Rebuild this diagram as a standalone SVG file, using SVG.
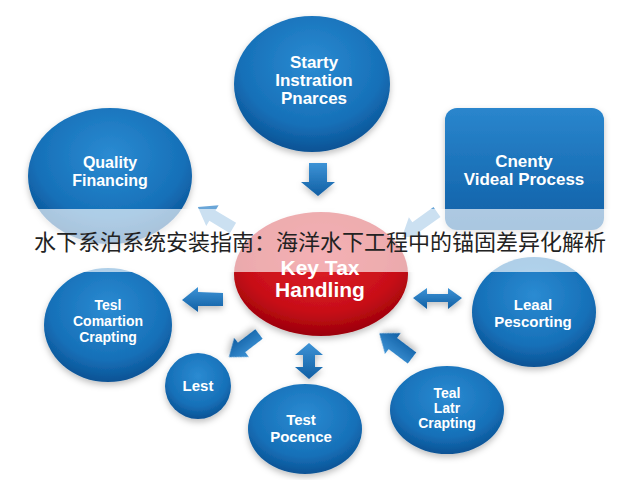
<svg xmlns="http://www.w3.org/2000/svg" width="640" height="480" viewBox="0 0 640 480">
<defs>
<radialGradient id="gBlue" cx="50%" cy="35%" r="65%">
<stop offset="0" stop-color="#2b8bd2"/>
<stop offset="0.7" stop-color="#1670b8"/>
<stop offset="1" stop-color="#0b5294"/>
</radialGradient>
<linearGradient id="gRect" x1="0" y1="0" x2="0" y2="1">
<stop offset="0" stop-color="#2a86cd"/>
<stop offset="1" stop-color="#0f5fa6"/>
</linearGradient>
<radialGradient id="gRed" cx="50%" cy="35%" r="65%">
<stop offset="0" stop-color="#e0202a"/>
<stop offset="0.7" stop-color="#c80f18"/>
<stop offset="1" stop-color="#9a0008"/>
</radialGradient>
<linearGradient id="gArrow" x1="0" y1="0" x2="0" y2="1">
<stop offset="0" stop-color="#3d93d6"/>
<stop offset="1" stop-color="#105ea3"/>
</linearGradient>
<filter id="sh" x="-20%" y="-20%" width="140%" height="150%">
<feDropShadow dx="0" dy="3" stdDeviation="3" flood-color="#000" flood-opacity="0.25"/>
</filter>
<style>
.blue{fill:url(#gBlue);filter:url(#sh)}
.lbl{font-family:"Liberation Sans",Arial,sans-serif;font-weight:bold;fill:#fff;text-anchor:middle}
.arr{fill:url(#gArrow);filter:url(#sh)}
.lite{fill:#6aa6d8}
.title{font-family:"Noto Sans CJK SC","Noto Sans",sans-serif;font-size:22px;fill:#222;text-anchor:middle}
</style>
</defs>
<rect width="640" height="480" fill="#fff"/>

<g id="node-top">
<ellipse class="blue" cx="312" cy="84" rx="78" ry="68"/>
<text class="lbl" x="314" font-size="17"><tspan x="314" y="68">Starty</tspan><tspan x="314" y="86">Instration</tspan><tspan x="314" y="104">Pnarces</tspan></text>
</g>
<g id="node-quality">
<ellipse class="blue" cx="110" cy="176" rx="82" ry="68"/>
<text class="lbl" x="110" font-size="16"><tspan x="110" y="168">Quality</tspan><tspan x="110" y="186">Financing</tspan></text>
</g>
<g id="node-cnenty">
<rect x="445" y="108" width="159" height="122" rx="12" fill="url(#gRect)" filter="url(#sh)"/>
<text class="lbl" x="524" font-size="17"><tspan x="524" y="167">Cnenty</tspan><tspan x="524" y="185">Videal Process</tspan></text>
</g>
<g id="node-center">
<ellipse cx="321" cy="274" rx="87" ry="62" fill="url(#gRed)" filter="url(#sh)"/>
<text class="lbl" x="320" font-size="21"><tspan x="320" y="275">Key Tax</tspan><tspan x="320" y="297">Handling</tspan></text>
</g>
<g id="node-comartion">
<ellipse class="blue" cx="108" cy="325" rx="64" ry="57"/>
<text class="lbl" x="108" font-size="14"><tspan x="108" y="310">Tesl</tspan><tspan x="108" y="326">Comartion</tspan><tspan x="108" y="342">Crapting</tspan></text>
</g>
<g id="node-leaal">
<ellipse class="blue" cx="534" cy="312" rx="62" ry="55"/>
<text class="lbl" x="533" font-size="15"><tspan x="533" y="310">Leaal</tspan><tspan x="533" y="327">Pescorting</tspan></text>
</g>
<g id="node-lest">
<ellipse class="blue" cx="198" cy="386" rx="33" ry="33"/>
<text class="lbl" x="198" y="391" font-size="15">Lest</text>
</g>
<g id="node-pocence">
<ellipse class="blue" cx="305" cy="429" rx="57" ry="45"/>
<text class="lbl" x="301" font-size="15"><tspan x="301" y="425">Test</tspan><tspan x="301" y="442">Pocence</tspan></text>
</g>
<g id="node-teal">
<ellipse class="blue" cx="447" cy="410" rx="57" ry="44"/>
<text class="lbl" x="447" font-size="14"><tspan x="447" y="398">Teal</tspan><tspan x="447" y="413">Latr</tspan><tspan x="447" y="428">Crapting</tspan></text>
</g>

<g id="connectors">
<polygon class="arr" points="309,163 327,163 327,182 335,182 318,196 301,182 309,182"/>
<polygon class="arr" points="223,293 198,292 198,287 182,300 198,312 198,306 223,306"/>
<polygon class="arr" transform="translate(259,334) rotate(142.5)" points="0,-6 22,-6 22,-12 38,0 22,12 22,6 0,6"/>
<polygon class="arr" transform="translate(412,358) rotate(-142.9)" points="0,-7 24,-7 24,-13 41,0 24,13 24,7 0,7"/>
<polygon class="arr" points="309,343 323,355 315,355 315,367 323,367 309,379 295,367 303,367 303,355 295,355"/>
<polygon class="arr" points="413,298 427,288 427,294 448,294 448,288 462,298 448,309 448,302 427,302 427,309"/>
<polygon class="lite" transform="translate(233,228) rotate(-149)" points="0,-6 24,-6 24,-12 41,0 24,12 24,6 0,6"/>
<polygon class="lite" transform="translate(437,212) rotate(144.5)" points="0,-6 26,-6 26,-12 43,0 26,12 26,6 0,6"/>
</g>

<rect x="0" y="209" width="640" height="63" fill="#fff" fill-opacity="0.65"/>
<text class="title" x="320" y="250">水下系泊系统安装指南：海洋水下工程中的锚固差异化解析</text>
</svg>
